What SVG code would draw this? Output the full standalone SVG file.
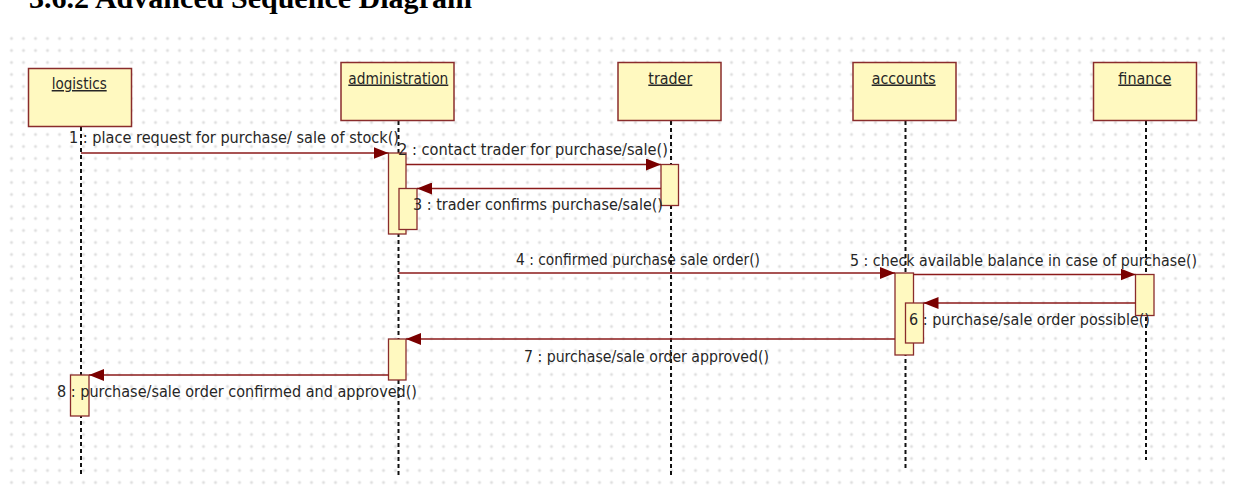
<svg xmlns="http://www.w3.org/2000/svg" width="1260" height="500" viewBox="0 0 1260 500">
<defs>
<pattern id="grid" patternUnits="userSpaceOnUse" x="5.5" y="32.5" width="12" height="12">
<rect x="5" y="4.5" width="2" height="3" fill="#e6e6e6"/>
<rect x="4.5" y="5" width="3" height="2" fill="#e6e6e6"/>
<rect x="5.5" y="5.5" width="1" height="1" fill="#cacaca"/>
</pattern>
<marker id="arr" markerUnits="userSpaceOnUse" markerWidth="15" markerHeight="12" refX="15" refY="6" orient="auto">
<path d="M0,0 L15,6 L0,12 z" fill="#7a0000"/>
</marker>
<style>
.box{fill:#fff9c0;stroke:#8a2c2c;stroke-width:1.5}
.act{fill:#fff9c0;stroke:#8a2c2c;stroke-width:1.3}
.life{stroke:#111;stroke-width:2;stroke-dasharray:4 3;fill:none}
.msg{stroke:#8b1a1a;stroke-width:1.5;fill:none;marker-end:url(#arr)}
.lbl{font-family:"DejaVu Sans",Verdana,sans-serif;font-size:15px;fill:#262626}
.name{font-family:"DejaVu Sans",Verdana,sans-serif;font-size:15px;fill:#262626;text-decoration:underline}
.title{font-family:"Liberation Serif","Times New Roman",serif;font-size:30px;font-weight:bold;fill:#000}
</style>
</defs>
<rect width="1260" height="500" fill="#fff"/>
<rect x="5" y="32" width="1220" height="458" fill="url(#grid)"/>
<text class="title" x="29" y="8" textLength="443" lengthAdjust="spacingAndGlyphs">3.6.2 Advanced Sequence Diagram</text>

<g id="lifelines">
<line class="life" x1="81" y1="127" x2="81" y2="475"/>
<line class="life" x1="398.5" y1="121" x2="398.5" y2="475"/>
<line class="life" x1="671" y1="121" x2="671" y2="475"/>
<line class="life" x1="905.5" y1="121" x2="905.5" y2="468"/>
<line class="life" x1="1146" y1="121" x2="1146" y2="460"/>
</g>

<g id="logistics">
<rect class="box" x="28.5" y="68.5" width="103" height="58"/>
<text class="name" x="51.7" y="89" textLength="55" lengthAdjust="spacingAndGlyphs">logistics</text>
<rect class="act" x="70.5" y="375" width="18.5" height="41"/>
</g>
<g id="administration">
<rect class="box" x="341" y="62.5" width="113" height="58"/>
<text class="name" x="348.3" y="83.5" textLength="100" lengthAdjust="spacingAndGlyphs">administration</text>
<rect class="act" x="388.5" y="153" width="17.5" height="81"/>
<rect class="act" x="399" y="188.5" width="18" height="41"/>
<rect class="act" x="388.5" y="339" width="17.5" height="41"/>
</g>
<g id="trader">
<rect class="box" x="618" y="62.5" width="103" height="58"/>
<text class="name" x="648.3" y="83.5" textLength="44" lengthAdjust="spacingAndGlyphs">trader</text>
<rect class="act" x="661" y="164.5" width="17.5" height="41"/>
</g>
<g id="accounts">
<rect class="box" x="853" y="62.5" width="103" height="58"/>
<text class="name" x="871.7" y="83.5" textLength="64" lengthAdjust="spacingAndGlyphs">accounts</text>
<rect class="act" x="895" y="273" width="18.5" height="82"/>
<rect class="act" x="905.5" y="303" width="18" height="40"/>
</g>
<g id="finance">
<rect class="box" x="1093.5" y="62.5" width="103" height="58"/>
<text class="name" x="1118.3" y="83.5" textLength="53" lengthAdjust="spacingAndGlyphs">finance</text>
<rect class="act" x="1135.5" y="274.5" width="18.5" height="41"/>
</g>

<g id="connectors">
<line class="msg" x1="81" y1="153" x2="388.5" y2="153"/>
<line class="msg" x1="406" y1="164.5" x2="661" y2="164.5"/>
<line class="msg" x1="661" y1="188.5" x2="417" y2="188.5"/>
<line class="msg" x1="398.5" y1="273" x2="895" y2="273"/>
<line class="msg" x1="913.5" y1="274.5" x2="1135.5" y2="274.5"/>
<line class="msg" x1="1135.5" y1="303" x2="923.5" y2="303"/>
<line class="msg" x1="895" y1="339" x2="406" y2="339"/>
<line class="msg" x1="388.5" y1="375" x2="89" y2="375"/>
</g>

<g id="labels">
<text class="lbl" x="69" y="143" textLength="330" lengthAdjust="spacingAndGlyphs">1 : place request for purchase/ sale of stock()</text>
<text class="lbl" x="398" y="155" textLength="270" lengthAdjust="spacingAndGlyphs">2 : contact trader for purchase/sale()</text>
<text class="lbl" x="413" y="210" textLength="250" lengthAdjust="spacingAndGlyphs">3 : trader confirms purchase/sale()</text>
<text class="lbl" x="516" y="265" textLength="244" lengthAdjust="spacingAndGlyphs">4 : confirmed purchase sale order()</text>
<text class="lbl" x="850" y="266" textLength="347" lengthAdjust="spacingAndGlyphs">5 : check available balance in case of purchase()</text>
<text class="lbl" x="909" y="325" textLength="241" lengthAdjust="spacingAndGlyphs">6 : purchase/sale order possible()</text>
<text class="lbl" x="524" y="362" textLength="245" lengthAdjust="spacingAndGlyphs">7 : purchase/sale order approved()</text>
<text class="lbl" x="57" y="397" textLength="360" lengthAdjust="spacingAndGlyphs">8 : purchase/sale order confirmed and approved()</text>
</g>
</svg>
